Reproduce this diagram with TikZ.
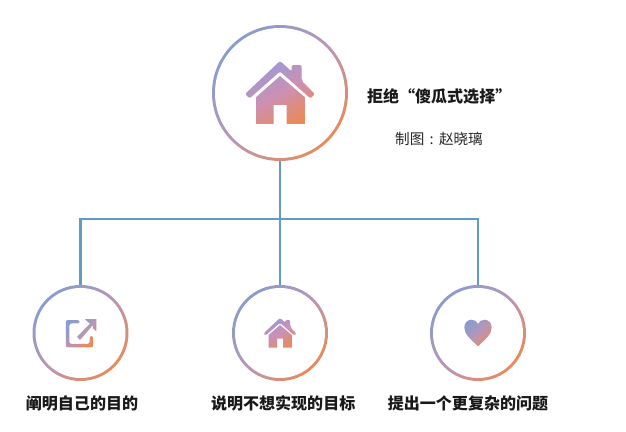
\documentclass[tikz,border=0pt]{standalone}
\usepackage{fontspec}
\usepackage{tikz}
\setmainfont{Noto Sans CJK SC}
\definecolor{tintblue}{HTML}{8A9CCC}
\definecolor{tintmid}{HTML}{B896B6}
\definecolor{tintorange}{HTML}{E88A5C}
\definecolor{roofblue}{HTML}{9A9AD6}
\definecolor{bodypink}{HTML}{CC90B4}
\definecolor{barblue}{HTML}{5F9CC4}
\tikzset{
	tint/.style={top color=tintblue, bottom color=tintorange, middle color=tintmid, shading angle=45},
	housetint/.style={top color=roofblue, bottom color=tintorange, middle color=bodypink, shading angle=30},
	ring/.style={circle, inner sep=0pt, tint},
	hole/.style={circle, inner sep=0pt, fill=white},
	bar/.style={barblue, line width=1.5pt},
	title/.style={font=\bfseries\fontsize{11.4}{14}\selectfont, text=black!90},
	goal/.style={font=\bfseries\fontsize{11.4}{14}\selectfont, text=black!90},
	credit/.style={font=\fontsize{10.4}{13}\selectfont, text=black!85}
}
\newcommand{\houseicon}[2]{
	\begin{scope}[shift={(#1)}, x=#2, y=#2]
		\shade[housetint] [rounded corners=1.5] (-35,-1) -- (0,32) -- (11.7,21.5) -- (11.7,28) -- (21.7,28) -- (21.7,12) -- (35,-1) -- (30.5,-5.5) -- (0,21.5) -- (-30.5,-5.5) -- cycle
			[sharp corners] (-24,-4.3) -- (0,17) -- (25,-4.3) -- (25,-31) -- (6.7,-31) -- (6.7,-12) -- (-6.3,-12) -- (-6.3,-31) -- (-24,-31) -- cycle;
	\end{scope}
}
\begin{document}
\begin{tikzpicture}
	\useasboundingbox (0,0) rectangle (15.65,10.8);
	\coordinate (J) at (7,5.325);
	\node (A) [ring, minimum size=3.4cm] at (7,8.475) {};
	\node (A0) [hole, minimum size=3.25cm] at (7,8.475) {};
	\node (B) [ring, minimum size=2.4cm] at (2.0125,2.475) {};
	\node (B0) [hole, minimum size=2.25cm] at (2.0125,2.475) {};
	\node (C) [ring, minimum size=2.4cm] at (7,2.475) {};
	\node (C0) [hole, minimum size=2.25cm] at (7,2.475) {};
	\node (D) [ring, minimum size=2.4cm] at (11.95,2.475) {};
	\node (D0) [hole, minimum size=2.25cm] at (11.95,2.475) {};
	\draw[bar] (A.south) -- (C.north);
	\draw[bar] (B.north) |- (J) -| (D.north);
	\houseicon{7,8.475}{.025cm}
	\houseicon{7,2.475}{.0118cm}
	\begin{scope}[shift={(2.0125,2.475)}, x=.025cm, y=.025cm]
		\shade[tint, rounded corners=1.5] (-1,13) -- (-14.7,13) -- (-14.7,-14.3) -- (12.7,-14.3) -- (12.7,-3) -- (9.2,-3) -- (9.2,-10.8) -- (-11.2,-10.8) -- (-11.2,9.5) -- (-1,9.5) -- cycle;
		\shade[tint] (4.5,14) -- (16,14) -- (16,1.5) -- (12.5,5) -- (12.5,8) -- (-0.5,-7) -- (-3.5,-4) -- (9.5,9.5) -- (8,10.5) -- cycle;
	\end{scope}
	\begin{scope}[shift={(11.95,2.475)}, x=.025cm, y=.025cm]
		\shade[tint] (0,-13.5) .. controls (-6,-7) and (-13.7,-2) .. (-13.7,5.5) .. controls (-13.7,10.5) and (-10,13.3) .. (-6.5,13.3) .. controls (-3.5,13.3) and (-1,11.5) .. (0,9) .. controls (1,11.5) and (3.5,13.3) .. (6.5,13.3) .. controls (10,13.3) and (13.7,10.5) .. (13.7,5.5) .. controls (13.7,-2) and (6,-7) .. (0,-13.5) -- cycle;
	\end{scope}
	\node (T) [title] at (10.98,8.4) {拒绝“傻瓜式选择”};
	\node (S) [credit] at (10.975,7.325) {制图\makebox[1em]{:}赵晓璃};
	\node (L1) [goal] at (2.05,0.72) {阐明自己的目的};
	\node (L2) [goal] at (7.08,0.72) {说明不想实现的目标};
	\node (L3) [goal] at (11.7,0.72) {提出一个更复杂的问题};
\end{tikzpicture}
\end{document}
